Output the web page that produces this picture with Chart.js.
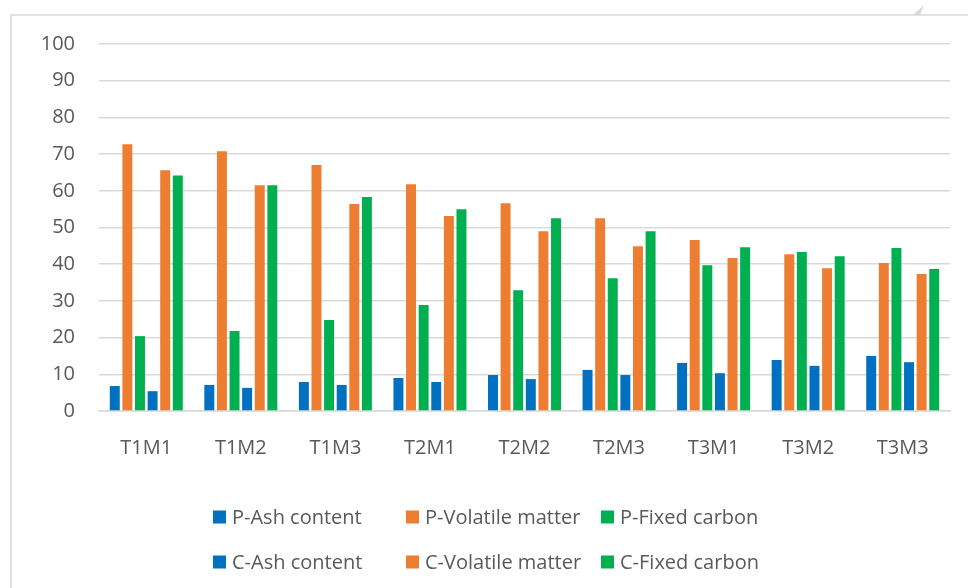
<!DOCTYPE html>
<html>
<head>
<meta charset="utf-8">
<script src="https://cdn.jsdelivr.net/npm/chart.js@4/dist/chart.umd.min.js"></script>
<style>
  html, body { margin: 0; padding: 0; background: #ffffff; }
  #wrap { position: relative; width: 968px; height: 588px; }
</style>
</head>
<body>
<div id="wrap"><canvas id="proxChart" width="968" height="588"></canvas></div>
<script>
// ---------- Data ----------
const categories = ["T1M1", "T1M2", "T1M3", "T2M1", "T2M2", "T2M3", "T3M1", "T3M2", "T3M3"];
const yTicks = [0, 10, 20, 30, 40, 50, 60, 70, 80, 90, 100];

const pAsh = [6.8, 7.1, 7.9, 9.0, 9.8, 11.2, 13.1, 13.9, 15.0];
const pVolatile = [72.7, 70.8, 67.0, 61.8, 56.6, 52.5, 46.6, 42.7, 40.3];
const pFixed = [20.4, 21.8, 24.8, 28.9, 32.9, 36.2, 39.7, 43.3, 44.4];
const cAsh = [5.4, 6.3, 7.1, 7.9, 8.7, 9.8, 10.3, 12.3, 13.3];
const cVolatile = [65.6, 61.5, 56.4, 53.1, 49.0, 44.9, 41.7, 38.9, 37.3];
const cFixed = [64.2, 61.5, 58.3, 55.0, 52.5, 49.0, 44.6, 42.2, 38.7];

const seriesLabels = [
  "P-Ash content", "P-Volatile matter", "P-Fixed carbon",
  "C-Ash content", "C-Volatile matter", "C-Fixed carbon",
];

// ---------- Styles ----------
const BLUE = "#0070C0";
const ORANGE = "#ED7D31";
const GREEN = "#00B050";
const GRID = "#D9D9D9";
const TEXT = "#595959";
const FONT = "'Open Sans', sans-serif";

function makeSet(label, data, color) {
  return {
    label,
    data,
    backgroundColor: color,
    borderWidth: 0,
    barPercentage: 0.79,
    categoryPercentage: 0.8,
  };
}

// frame + little corner mark, drawn before everything
const framePlugin = {
  id: "frame",
  beforeDraw(chart) {
    const ctx = chart.ctx;
    ctx.save();
    ctx.strokeStyle = GRID;
    ctx.lineWidth = 1.5;
    ctx.beginPath();
    ctx.moveTo(11, chart.height);
    ctx.lineTo(11, 15);
    ctx.lineTo(chart.width, 15);
    ctx.stroke();
    ctx.fillStyle = GRID;
    ctx.beginPath();
    ctx.moveTo(913, 15);
    ctx.lineTo(920, 15);
    ctx.lineTo(924, 5);
    ctx.closePath();
    ctx.fill();
    ctx.restore();
  },
};

// two-row legend, three fixed columns like the original
const legendPlugin = {
  id: "gridLegend",
  afterDraw(chart) {
    const ctx = chart.ctx;
    const cols = [213, 406, 601];
    const rows = [517, 562];
    ctx.save();
    ctx.font = "20px " + FONT;
    ctx.textBaseline = "middle";
    ctx.textAlign = "left";
    chart.data.datasets.forEach((ds, i) => {
      const x = cols[i % 3];
      const y = rows[Math.floor(i / 3)];
      ctx.fillStyle = ds.backgroundColor;
      ctx.fillRect(x, y - 6.5, 13, 13);
      ctx.fillStyle = TEXT;
      ctx.fillText(ds.label, x + 19, y + 1);
    });
    ctx.restore();
  },
};

const ctx = document.getElementById("proxChart").getContext("2d");
new Chart(ctx, {
  type: "bar",
  data: {
    labels: categories,
    datasets: [
      makeSet(seriesLabels[0], pAsh, BLUE),
      makeSet(seriesLabels[1], pVolatile, ORANGE),
      makeSet(seriesLabels[2], pFixed, GREEN),
      makeSet(seriesLabels[3], cAsh, BLUE),
      makeSet(seriesLabels[4], cVolatile, ORANGE),
      makeSet(seriesLabels[5], cFixed, GREEN),
    ],
  },
  options: {
    responsive: false,
    animation: false,
    devicePixelRatio: 1,
    layout: { padding: { top: 44, right: 18, bottom: 107, left: 0 } },
    plugins: {
      legend: { display: false },
      tooltip: { enabled: false },
    },
    scales: {
      x: {
        grid: { display: false, drawTicks: false },
        border: { display: true, color: GRID, width: 1.5 },
        ticks: { color: TEXT, font: { family: FONT, size: 20 }, padding: 25, maxRotation: 0 },
        afterFit: (scale) => { scale.height = 70; },
      },
      y: {
        min: 0,
        max: 100,
        afterBuildTicks: (scale) => { scale.ticks = yTicks.map((v) => ({ value: v })); },
        grid: { color: GRID, lineWidth: 1.5, drawTicks: false },
        border: { display: false },
        ticks: { color: TEXT, font: { family: FONT, size: 20 }, padding: 24 },
        afterFit: (scale) => { scale.width = 99; },
      },
    },
  },
  plugins: [framePlugin, legendPlugin],
});
</script>
</body>
</html>
